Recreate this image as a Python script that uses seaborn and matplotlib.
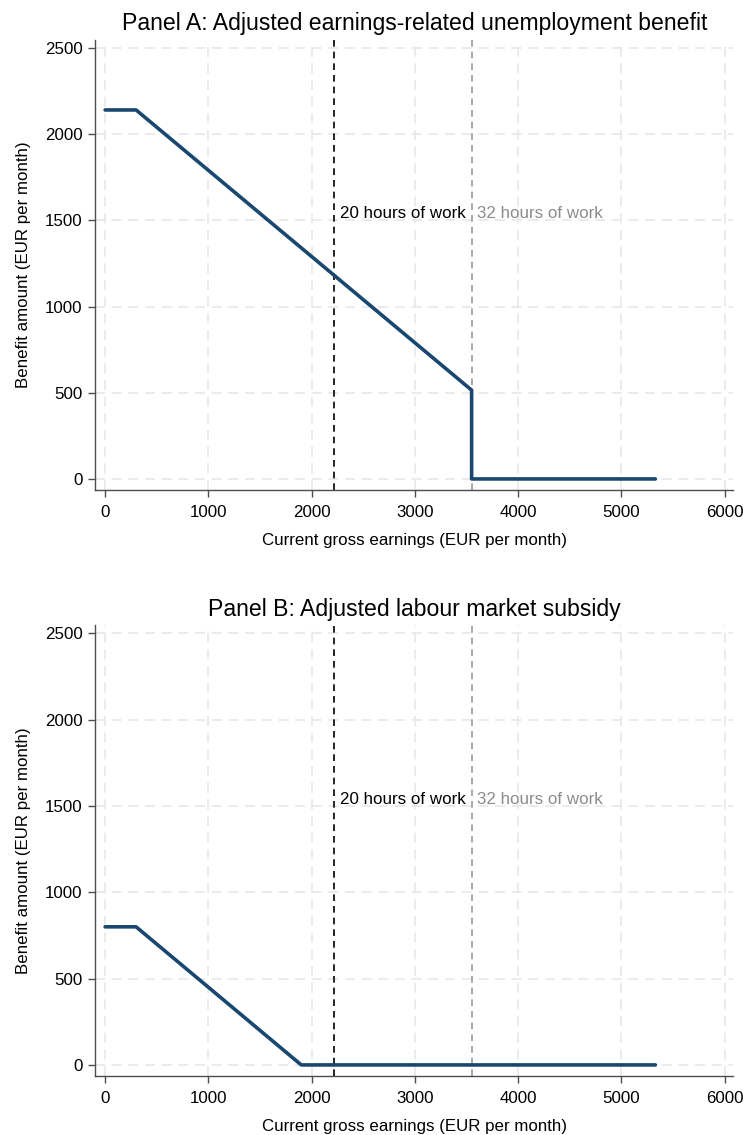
import matplotlib
matplotlib.use("Agg")
import matplotlib.pyplot as plt
import seaborn as sns
import pandas as pd

# Benefit schedules: gross earnings (EUR/month) -> benefit amount (EUR/month)
earnings_a = [0, 300, 3550, 3550, 5330]
benefit_a = [2140, 2140, 515, 0, 0]

earnings_b = [0, 300, 1900, 5330]
benefit_b = [800, 800, 0, 0]

# Earnings reached with 20 and 32 weekly hours of work
hours_labels = ["20 hours of work", "32 hours of work"]
hours_earnings = [2219, 3550]

titles = ["Panel A: Adjusted earnings-related unemployment benefit",
          "Panel B: Adjusted labour market subsidy"]
x_ticks = [0, 1000, 2000, 3000, 4000, 5000, 6000]
y_ticks = [0, 500, 1000, 1500, 2000, 2500]

sns.set_theme(style="white")
plt.rcParams["font.family"] = ["Liberation Sans", "DejaVu Sans"]

NAVY = "#1a476f"
SPINE = "#4d4d4d"
GRID = "#e8e8e8"
FS = 12.2

fig = plt.figure(figsize=(7.43, 11.35), dpi=100)
ax_a = fig.add_axes([0.128, 0.5683, 0.859, 0.3965])
ax_b = fig.add_axes([0.128, 0.0520, 0.859, 0.3970])

panels = [
    (ax_a, pd.DataFrame({"earnings": earnings_a, "benefit": benefit_a})),
    (ax_b, pd.DataFrame({"earnings": earnings_b, "benefit": benefit_b})),
]

for (ax, df), title in zip(panels, titles):
    ax.set_xlim(-97, 6085)
    ax.set_ylim(-64, 2546)

    # dashed grid at the major ticks
    for xv in x_ticks:
        ax.axvline(xv, color=GRID, lw=1.2, ls=(0, (6, 4)), zorder=0)
    for yv in y_ticks:
        ax.axhline(yv, color=GRID, lw=1.2, ls=(0, (6, 4)), zorder=0)

    # reference lines for hours of work
    ax.axvline(hours_earnings[0], color="black", lw=1.2, ls=(0, (4, 3)), zorder=1)
    ax.axvline(hours_earnings[1], color="#9a9a9a", lw=1.2, ls=(0, (4, 3)), zorder=1)
    ax.text(hours_earnings[0] + 55, 1540, hours_labels[0], color="black",
            fontsize=FS, va="center", ha="left")
    ax.text(hours_earnings[1] + 55, 1540, hours_labels[1], color="#8c8c8c",
            fontsize=FS, va="center", ha="left")

    sns.lineplot(data=df, x="earnings", y="benefit", ax=ax, estimator=None,
                 sort=False, color=NAVY, lw=2.6, zorder=3)

    ax.set_xticks(x_ticks)
    ax.set_yticks(y_ticks)
    ax.set_xticklabels([str(v) for v in x_ticks])
    ax.set_yticklabels([str(v) for v in y_ticks])
    ax.tick_params(axis="both", which="major", labelsize=FS, length=5,
                   width=1, color=SPINE, labelcolor="black", pad=4,
                   bottom=True, left=True)
    ax.tick_params(axis="x", pad=6)

    for side in ["top", "right"]:
        ax.spines[side].set_visible(False)
    for side in ["left", "bottom"]:
        ax.spines[side].set_color(SPINE)
        ax.spines[side].set_linewidth(1)

    ax.set_xlabel("Current gross earnings (EUR per month)", fontsize=FS,
                  color="black", labelpad=9)
    ax.set_ylabel("Benefit amount (EUR per month)", fontsize=FS,
                  color="black", labelpad=10)
    ax.set_title(title, fontsize=16.6, color="black", pad=7)

fig.savefig("out.png", dpi=100, facecolor="white")
